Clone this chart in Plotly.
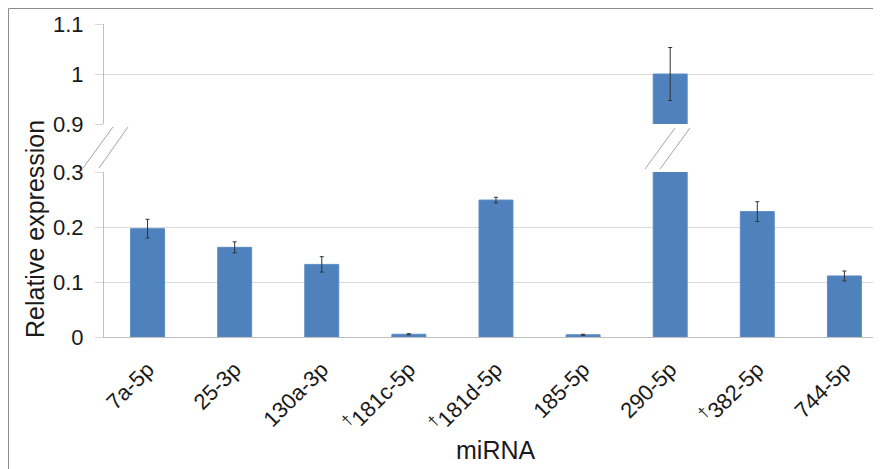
import plotly.graph_objects as go

categories = ["7a-5p", "25-3p", "130a-3p", "<sup>†</sup>181c-5p", "<sup>†</sup>181d-5p",
              "185-5p", "290-5p", "<sup>†</sup>382-5p", "744-5p"]
values = [0.197, 0.163, 0.132, 0.005, 0.249, 0.004, 1.0, 0.228, 0.111]
errors = [0.017, 0.010, 0.014, 0.001, 0.005, 0.001, 0.053, 0.018, 0.009]
lower_ticks = [0, 0.1, 0.2, 0.3]
lower_ticktext = ["0", "0.1", "0.2", "0.3"]
upper_ticks = [0.9, 1.0, 1.1]
upper_ticktext = ["0.9", "1", "1.1"]

# page body has an 8px margin; figure is sized to fill the rest of the window
OFF = 8
W, H = 881 - OFF, 469 - OFF
L, R, T, B = 104 - OFF, 0, 24 - OFF, 469 - 337
PW, PH = W - L - R, H - T - B

def px_x(p):  # screen pixel -> paper x
    return (p - OFF - L) / PW

def px_y(p):  # screen pixel -> paper y
    return (H - B - (p - OFF)) / PH

xs = list(range(len(categories)))
bar_color = "#4F81BD"
FONT = "Liberation Sans, Arial, sans-serif"
TXT = "#1a1a1a"

fig = go.Figure()
for xa, ya in [("x", "y"), ("x2", "y2")]:
    fig.add_trace(go.Bar(
        x=xs, y=values, xaxis=xa, yaxis=ya, width=0.39,
        marker=dict(color=bar_color, line=dict(color="#5B8CC6", width=1)),
        error_y=dict(type="data", array=errors, visible=True,
                     color="#333333", thickness=1, width=2),
        showlegend=False,
    ))

grid = "#D9D9D9"
axis_line = "#BFBFBF"
lower_dom = [0, px_y(172)]
upper_dom = [px_y(124), 1]
xrange_ = [-0.5, 8.42]

fig.update_layout(
    width=W, height=H,
    margin=dict(l=L, r=R, t=T, b=B, pad=0, autoexpand=False),
    paper_bgcolor="white", plot_bgcolor="white",
    font=dict(family=FONT, size=22, color=TXT),
    xaxis=dict(domain=[0, 1], range=xrange_, tickmode="array", tickvals=xs,
               ticktext=categories, tickangle=-45, showgrid=False,
               showline=True, linecolor=axis_line, ticks="", zeroline=False,
               ticklabelstandoff=10, automargin=False,
               tickfont=dict(size=22, family=FONT, color=TXT),
               anchor="y"),
    yaxis=dict(domain=lower_dom, range=[0, 0.3], tickmode="array",
               tickvals=lower_ticks, ticktext=lower_ticktext,
               showgrid=True, gridcolor=grid, gridwidth=1,
               showline=True, linecolor=axis_line, ticks="outside",
               ticklen=8, tickcolor=grid, zeroline=False,
               ticklabelstandoff=7, automargin=False,
               tickfont=dict(size=22, family=FONT, color=TXT), anchor="x"),
    xaxis2=dict(domain=[0, 1], range=xrange_, showticklabels=False,
                showgrid=False, showline=False, ticks="", zeroline=False,
                anchor="y2"),
    yaxis2=dict(domain=upper_dom, range=[0.9, 1.1], tickmode="array",
                tickvals=upper_ticks, ticktext=upper_ticktext,
                showgrid=True, gridcolor=grid, gridwidth=1,
                showline=True, linecolor=axis_line, ticks="outside",
                ticklen=8, tickcolor=grid, zeroline=False,
                ticklabelstandoff=7, automargin=False,
                tickfont=dict(size=22, family=FONT, color=TXT), anchor="x2"),
)

# Axis titles as annotations
fig.add_annotation(x=px_x(35), y=px_y(229), xref="paper", yref="paper",
                   xanchor="center", yanchor="middle",
                   text="Relative expression", textangle=-90, showarrow=False,
                   font=dict(size=25, family=FONT, color=TXT))
fig.add_annotation(x=px_x(495), y=px_y(450), xref="paper", yref="paper",
                   xanchor="center", yanchor="middle",
                   text="miRNA", showarrow=False,
                   font=dict(size=25, family=FONT, color=TXT))

# Break marks on the y-axis and on the 290-5p bar
brk = "#A6A6A6"
for (x0, y0, x1, y1) in [(83, 168, 113, 127), (99, 168, 128, 127),
                         (645, 169, 675, 128), (660, 169, 690, 128)]:
    fig.add_shape(type="line", xref="paper", yref="paper",
                  x0=px_x(x0), y0=px_y(y0), x1=px_x(x1), y1=px_y(y1),
                  line=dict(color=brk, width=1))

# Outer chart border (left and top edges visible)
fig.add_shape(type="rect", xref="paper", yref="paper",
              x0=px_x(8.5), y0=px_y(480), x1=px_x(890), y1=px_y(8.5),
              line=dict(color="#8C8C8C", width=1), layer="below")

fig.write_html("out.html")
